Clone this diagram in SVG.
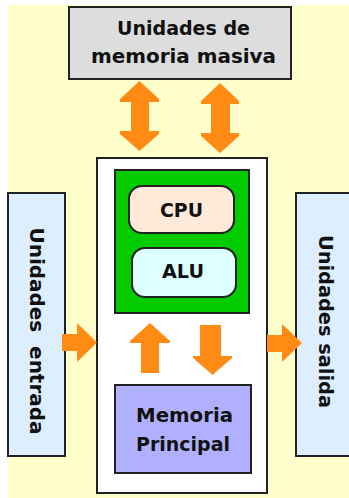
<svg xmlns="http://www.w3.org/2000/svg" width="349" height="498" viewBox="0 0 349 498">
<style>
.box{stroke:#222;stroke-width:2}
.t{font-family:"DejaVu Sans","Verdana",sans-serif;font-weight:bold;font-size:20px;fill:#111;text-anchor:middle}
.arr{fill:#FF8A14}
</style>
<rect x="0" y="0" width="349" height="498" fill="#FFFFFF"/>
<rect x="8" y="5" width="341" height="493" fill="#FFFFCC"/>
<g id="masiva">
<rect class="box" x="69" y="7" width="222" height="72" fill="#DDDDDD"/>
<text class="t" x="183.5" y="35" textLength="133" lengthAdjust="spacingAndGlyphs">Unidades de</text>
<text class="t" x="183.5" y="63" textLength="185" lengthAdjust="spacingAndGlyphs">memoria masiva</text>
</g>
<g id="entrada">
<rect class="box" x="8" y="193" width="57" height="263" fill="#DDEEFF"/>
<text class="t" transform="translate(30,331) rotate(90)" textLength="207" lengthAdjust="spacingAndGlyphs" xml:space="preserve">Unidades  entrada</text>
</g>
<g id="salida">
<rect class="box" x="296" y="193" width="60" height="263" fill="#DDEEFF"/>
<text class="t" transform="translate(319,321.5) rotate(90)" textLength="173" lengthAdjust="spacingAndGlyphs">Unidades salida</text>
</g>
<g id="central">
<rect class="box" x="97" y="158" width="170" height="335" fill="#FFFFFF"/>
</g>
<g id="procesador">
<rect class="box" x="115" y="170" width="134" height="143" fill="#00CC00"/>
</g>
<g id="cpu">
<rect class="box" x="129" y="186" width="105" height="47" rx="13" fill="#FFEAD9"/>
<text class="t" x="181.5" y="217" textLength="43" lengthAdjust="spacingAndGlyphs">CPU</text>
</g>
<g id="alu">
<rect class="box" x="132" y="248" width="104" height="49" rx="13" fill="#DDFFFF"/>
<text class="t" x="183" y="278" textLength="42" lengthAdjust="spacingAndGlyphs">ALU</text>
</g>
<g id="memoria">
<rect class="box" x="115" y="385" width="136" height="88" fill="#B0B0FF"/>
<text class="t" x="184.5" y="422" textLength="97" lengthAdjust="spacingAndGlyphs">Memoria</text>
<text class="t" x="183" y="451" textLength="94" lengthAdjust="spacingAndGlyphs">Principal</text>
</g>
<g id="connectors">
<polygon class="arr" points="139.5,81 159,99 159,102 149,102 149,131 159,131 159,134 139.5,151 120,134 120,131 131,131 131,102 120,102 120,99"/>
<polygon class="arr" points="220,83 239,101 239,104 230,104 230,133 239,133 239,136 220,153 201,136 201,133 211,133 211,104 201,104 201,101"/>
<polygon class="arr" points="62,334 77,334 77,323 97,342.5 77,362 77,351 62,351"/>
<polygon class="arr" points="267,335 282,335 282,324 302,343 282,362 282,352 267,352"/>
<polygon class="arr" points="150,323 170,341 170,343 159,343 159,373 141,373 141,343 130,343 130,341"/>
<polygon class="arr" points="200,325 221,325 221,356 232,356 232,358 212.5,375 193,358 193,356 200,356"/>
</g>
</svg>
